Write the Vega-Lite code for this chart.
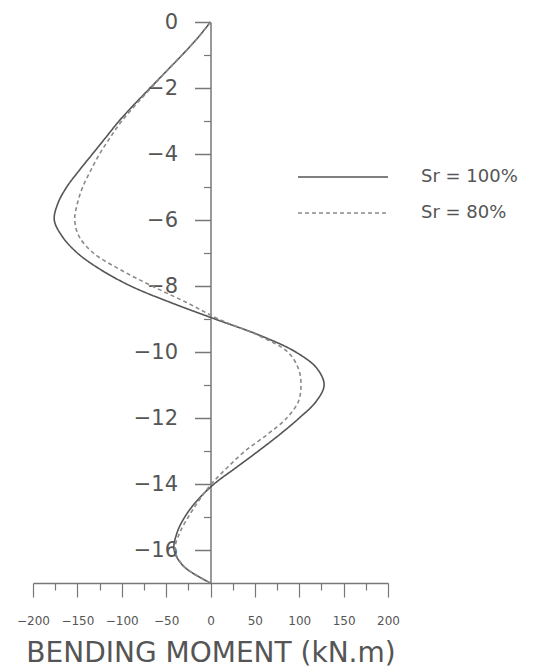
{
  "$schema": "https://vega.github.io/schema/vega-lite/v6.json",
  "width": 355,
  "height": 561,
  "autosize": "none",
  "padding": {"left": 33, "top": 22, "right": 151, "bottom": 88},
  "background": "white",
  "config": {
    "view": {"stroke": null},
    "font": "DejaVu Sans",
    "axis": {"grid": false, "domainColor": "#777", "tickColor": "#777", "labelColor": "#555", "titleColor": "#555", "labelFont": "DejaVu Sans", "titleFont": "DejaVu Sans"}
  },
  "data": {
    "values": [
      {"series": "Sr = 100%", "depth": 0, "moment": 0},
      {"series": "Sr = 100%", "depth": -0.5, "moment": -15},
      {"series": "Sr = 100%", "depth": -1, "moment": -32},
      {"series": "Sr = 100%", "depth": -1.5, "moment": -50},
      {"series": "Sr = 100%", "depth": -2, "moment": -68},
      {"series": "Sr = 100%", "depth": -2.5, "moment": -86},
      {"series": "Sr = 100%", "depth": -3, "moment": -103},
      {"series": "Sr = 100%", "depth": -3.5, "moment": -118},
      {"series": "Sr = 100%", "depth": -4, "moment": -133},
      {"series": "Sr = 100%", "depth": -4.5, "moment": -148},
      {"series": "Sr = 100%", "depth": -5, "moment": -162},
      {"series": "Sr = 100%", "depth": -5.5, "moment": -172},
      {"series": "Sr = 100%", "depth": -6, "moment": -176},
      {"series": "Sr = 100%", "depth": -6.5, "moment": -167},
      {"series": "Sr = 100%", "depth": -7, "moment": -150},
      {"series": "Sr = 100%", "depth": -7.5, "moment": -124},
      {"series": "Sr = 100%", "depth": -8, "moment": -90},
      {"series": "Sr = 100%", "depth": -8.5, "moment": -45},
      {"series": "Sr = 100%", "depth": -9, "moment": 5},
      {"series": "Sr = 100%", "depth": -9.5, "moment": 56},
      {"series": "Sr = 100%", "depth": -10, "moment": 96},
      {"series": "Sr = 100%", "depth": -10.5, "moment": 120},
      {"series": "Sr = 100%", "depth": -11, "moment": 128},
      {"series": "Sr = 100%", "depth": -11.5, "moment": 119},
      {"series": "Sr = 100%", "depth": -12, "moment": 100},
      {"series": "Sr = 100%", "depth": -12.5, "moment": 78},
      {"series": "Sr = 100%", "depth": -13, "moment": 54},
      {"series": "Sr = 100%", "depth": -13.5, "moment": 29},
      {"series": "Sr = 100%", "depth": -14, "moment": 4},
      {"series": "Sr = 100%", "depth": -14.5, "moment": -15},
      {"series": "Sr = 100%", "depth": -15, "moment": -29},
      {"series": "Sr = 100%", "depth": -15.5, "moment": -38},
      {"series": "Sr = 100%", "depth": -16, "moment": -41},
      {"series": "Sr = 100%", "depth": -16.5, "moment": -30},
      {"series": "Sr = 100%", "depth": -17, "moment": 0},
      {"series": "Sr = 80%", "depth": 0, "moment": 0},
      {"series": "Sr = 80%", "depth": -0.5, "moment": -15},
      {"series": "Sr = 80%", "depth": -1, "moment": -32},
      {"series": "Sr = 80%", "depth": -1.5, "moment": -50},
      {"series": "Sr = 80%", "depth": -2, "moment": -67},
      {"series": "Sr = 80%", "depth": -2.5, "moment": -84},
      {"series": "Sr = 80%", "depth": -3, "moment": -100},
      {"series": "Sr = 80%", "depth": -3.5, "moment": -113},
      {"series": "Sr = 80%", "depth": -4, "moment": -125},
      {"series": "Sr = 80%", "depth": -4.5, "moment": -135},
      {"series": "Sr = 80%", "depth": -5, "moment": -144},
      {"series": "Sr = 80%", "depth": -5.5, "moment": -150},
      {"series": "Sr = 80%", "depth": -6, "moment": -153},
      {"series": "Sr = 80%", "depth": -6.5, "moment": -148},
      {"series": "Sr = 80%", "depth": -7, "moment": -132},
      {"series": "Sr = 80%", "depth": -7.5, "moment": -102},
      {"series": "Sr = 80%", "depth": -8, "moment": -66},
      {"series": "Sr = 80%", "depth": -8.5, "moment": -27},
      {"series": "Sr = 80%", "depth": -9, "moment": 9},
      {"series": "Sr = 80%", "depth": -9.5, "moment": 54},
      {"series": "Sr = 80%", "depth": -10, "moment": 87},
      {"series": "Sr = 80%", "depth": -10.5, "moment": 99},
      {"series": "Sr = 80%", "depth": -11, "moment": 102},
      {"series": "Sr = 80%", "depth": -11.5, "moment": 99},
      {"series": "Sr = 80%", "depth": -12, "moment": 86},
      {"series": "Sr = 80%", "depth": -12.5, "moment": 64},
      {"series": "Sr = 80%", "depth": -13, "moment": 39},
      {"series": "Sr = 80%", "depth": -13.5, "moment": 19},
      {"series": "Sr = 80%", "depth": -14, "moment": 1},
      {"series": "Sr = 80%", "depth": -14.5, "moment": -13},
      {"series": "Sr = 80%", "depth": -15, "moment": -25},
      {"series": "Sr = 80%", "depth": -15.5, "moment": -35},
      {"series": "Sr = 80%", "depth": -16, "moment": -40},
      {"series": "Sr = 80%", "depth": -16.5, "moment": -30},
      {"series": "Sr = 80%", "depth": -17, "moment": 0}
    ]
  },
  "layer": [
    {
      "mark": {"type": "line", "interpolate": "catmull-rom", "strokeWidth": 1.6},
      "encoding": {
        "x": {
          "field": "moment", "type": "quantitative",
          "scale": {"domain": [-200, 200], "nice": false, "zero": false},
          "axis": {
            "orient": "bottom",
            "values": [-200, -150, -100, -50, 0, 50, 100, 150, 200],
            "tickSize": 14, "domainWidth": 1.5, "tickWidth": 1.2,
            "labelFontSize": 12, "labelPadding": 18, "labelFlush": false,
            "title": "BENDING MOMENT (kN.m)", "titleFontSize": 28, "titleFontWeight": "normal", "titlePadding": 13
          }
        },
        "y": {
          "field": "depth", "type": "quantitative",
          "scale": {"domain": [-17, 0], "nice": false, "zero": false},
          "axis": {
            "orient": "left",
            "values": [0, -2, -4, -6, -8, -10, -12, -14, -16],
            "offset": -177.5, "tickSize": 16, "domainWidth": 1.5, "tickWidth": 1.5,
            "labelFontSize": 21, "labelPadding": 17, "labelFlush": false, "title": null
          }
        },
        "order": {"field": "depth", "sort": "descending"},
        "color": {
          "field": "series", "type": "nominal",
          "scale": {"domain": ["Sr = 100%", "Sr = 80%"], "range": ["#555555", "#8a8a8a"]},
          "legend": {
            "title": null, "orient": "none", "legendX": 264, "legendY": 145,
            "symbolType": "stroke", "symbolSize": 8100, "symbolStrokeWidth": 1.6,
            "clipHeight": 20,
            "labelFontSize": 18, "labelColor": "#555", "labelOffset": 32, "rowPadding": 16
          }
        },
        "strokeDash": {
          "field": "series", "type": "nominal",
          "scale": {"domain": ["Sr = 100%", "Sr = 80%"], "range": [[1, 0], [4, 3]]},
          "legend": null
        }
      }
    },
    {
      "mark": {"type": "point", "opacity": 0},
      "encoding": {
        "x": {
          "field": "moment", "type": "quantitative",
          "axis": {
            "orient": "bottom",
            "values": [-175, -125, -75, -25, 25, 75, 125, 175],
            "tickSize": 7, "tickWidth": 1.2, "domain": false, "labels": false, "title": null
          }
        },
        "y": {
          "field": "depth", "type": "quantitative",
          "axis": {
            "orient": "left",
            "values": [-1, -3, -5, -7, -9, -11, -13, -15],
            "offset": -177.5, "tickSize": 7, "tickWidth": 1.2, "domain": false, "labels": false, "title": null
          }
        }
      }
    }
  ],
  "resolve": {"axis": {"x": "independent", "y": "independent"}}
}
